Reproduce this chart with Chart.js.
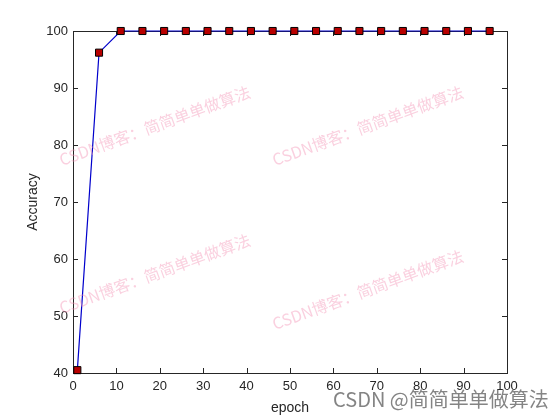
<!DOCTYPE html>
<html>
<head>
<meta charset="utf-8">
<script src="https://cdn.jsdelivr.net/npm/chart.js@4.4.1/dist/chart.umd.min.js"></script>
<style>
  html, body { margin: 0; padding: 0; background: #fff; }
  #wrap { width: 560px; height: 420px; }
</style>
</head>
<body>
<div id="wrap"><canvas id="accChart" width="560" height="420"></canvas></div>
<script>
// data
const epochs = [1, 6, 11, 16, 21, 26, 31, 36, 41, 46, 51, 56, 61, 66, 71, 76, 81, 86, 91, 96]
const accuracy = [40.5, 96.2, 100, 100, 100, 100, 100, 100, 100, 100, 100, 100, 100, 100, 100, 100, 100, 100, 100, 100]
const xTicks = [0, 10, 20, 30, 40, 50, 60, 70, 80, 90, 100]
const yTicks = [40, 50, 60, 70, 80, 90, 100]
const watermark = 'CSDN博客：简简单单做算法'
const footerMark = 'CSDN @简简单单做算法'

const tickFont = { family: 'Liberation Sans, Arial, sans-serif', size: 13 }

// MATLAB-style box with inward ticks on all sides (drawn under the data)
const boxTicks = {
    id: 'boxTicks',
    beforeDatasetsDraw(chart) {
        const ctx = chart.ctx
        const a = chart.chartArea
        const xs = chart.scales.x
        const ys = chart.scales.y
        ctx.save()
        ctx.strokeStyle = '#262626'
        ctx.lineWidth = 1
        ctx.strokeRect(Math.round(a.left) + 0.5, Math.round(a.top) + 0.5, Math.round(a.right - a.left), Math.round(a.bottom - a.top))
        ctx.beginPath()
        xTicks.forEach(v => {
            const px = Math.round(xs.getPixelForValue(v)) + 0.5
            ctx.moveTo(px, a.bottom); ctx.lineTo(px, a.bottom - 5)
            ctx.moveTo(px, a.top); ctx.lineTo(px, a.top + 5)
        })
        yTicks.forEach(v => {
            const py = Math.round(ys.getPixelForValue(v)) + 0.5
            ctx.moveTo(a.left, py); ctx.lineTo(a.left + 5, py)
            ctx.moveTo(a.right, py); ctx.lineTo(a.right - 5, py)
        })
        ctx.stroke()
        ctx.restore()
    }
}

const marks = {
    id: 'marks',
    afterDraw(chart) {
        const ctx = chart.ctx
        ctx.save()
        ctx.font = '16px "Noto Sans CJK SC", sans-serif'
        ctx.fillStyle = 'rgba(245, 150, 185, 0.45)'
        const spots = [[62, 166], [275, 166], [62, 314], [275, 330]]
        spots.forEach(([x, y]) => {
            ctx.save()
            ctx.translate(x, y)
            ctx.rotate(-20 * Math.PI / 180)
            ctx.fillText(watermark, 0, 0)
            ctx.restore()
        })
        ctx.font = '20px "Noto Sans CJK SC", sans-serif'
        ctx.fillStyle = 'rgba(110, 110, 110, 0.85)'
        ctx.fillText(footerMark, 333, 407)
        ctx.restore()
    }
}

const ctx = document.getElementById('accChart')
const accChart = new Chart(ctx, {
    type: 'line',
    data: {
        datasets: [{
            label: 'Accuracy',
            data: epochs.map((e, i) => ({ x: e, y: accuracy[i] })),
            borderColor: '#0000cc',
            borderWidth: 1.2,
            backgroundColor: '#b80000',
            pointStyle: 'rect',
            pointRadius: 5,
            pointBorderColor: '#000',
            pointBorderWidth: 1,
            tension: 0,
            fill: false,
            clip: false
        }]
    },
    options: {
        responsive: false,
        animation: false,
        layout: { padding: { top: 31, right: 53, left: 0, bottom: 0 } },
        plugins: {
            legend: { display: false },
            tooltip: { enabled: false }
        },
        scales: {
            x: {
                type: 'linear',
                min: 0,
                max: 100,
                afterBuildTicks: s => { s.ticks = xTicks.map(v => ({ value: v })) },
                afterFit: s => { s.height = 47 },
                grid: { display: false, drawTicks: false },
                border: { display: false },
                ticks: { color: '#262626', font: tickFont, padding: 6 },
                title: { display: true, text: 'epoch', color: '#262626', font: { family: tickFont.family, size: 14 }, padding: { top: 4, bottom: 3 } }
            },
            y: {
                min: 40,
                max: 100,
                afterBuildTicks: s => { s.ticks = yTicks.map(v => ({ value: v })) },
                afterFit: s => { s.width = 73 },
                grid: { display: false, drawTicks: false },
                border: { display: false },
                ticks: { color: '#262626', font: tickFont, padding: 5 },
                title: { display: true, text: 'Accuracy', color: '#262626', font: { family: tickFont.family, size: 14 }, padding: { top: 25, bottom: 0 } }
            }
        }
    },
    plugins: [boxTicks, marks]
})
</script>
</body>
</html>
